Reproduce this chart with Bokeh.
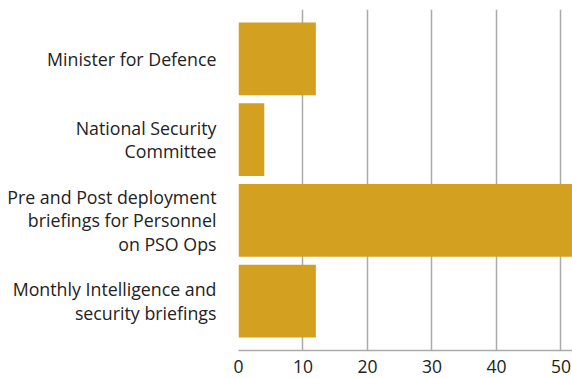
from bokeh.plotting import figure
from bokeh.models import Range1d, FixedTicker
from bokeh.embed import file_html
from bokeh.resources import INLINE

categories = [
    "Minister for Defence",
    "National Security\nCommittee",
    "Pre and Post deployment\nbriefings for Personnel\non PSO Ops",
    "Monthly Intelligence and\nsecurity briefings",
]
values = [12, 4, 52, 12]
positions = [4, 3, 2, 1]
x_ticks = [0, 10, 20, 30, 40, 50]

FONT = "Open Sans"
TEXT_COLOR = "#222222"
BAR_COLOR = "#D4A020"

p = figure(width=572, height=378, output_backend="svg", toolbar_location=None,
           x_range=Range1d(0, 51.8), y_range=Range1d(0.39, 4.61),
           min_border_left=238, min_border_right=0, min_border_top=9,
           min_border_bottom=28)
p.outline_line_color = None
p.background_fill_color = "white"

p.hbar(y=positions, right=values, left=0, height=0.9, color=BAR_COLOR, line_color=None)

p.xaxis.ticker = FixedTicker(ticks=x_ticks)
p.xaxis.axis_line_color = "#aaaaaa"
p.xaxis.axis_line_width = 1.5
p.xaxis.major_tick_line_color = None
p.xaxis.minor_tick_line_color = None
p.xaxis.major_label_text_font = FONT
p.xaxis.major_label_text_font_size = "17.5px"
p.xaxis.major_label_text_color = TEXT_COLOR
p.xaxis.major_label_standoff = 3

p.yaxis.ticker = FixedTicker(ticks=positions)
p.yaxis.major_label_overrides = {pos: lab for pos, lab in zip(positions, categories)}
p.yaxis.axis_line_color = None
p.yaxis.major_tick_line_color = None
p.yaxis.minor_tick_line_color = None
p.yaxis.major_label_text_font = FONT
p.yaxis.major_label_text_font_size = "17.8px"
p.yaxis.major_label_text_color = TEXT_COLOR
p.yaxis.major_label_standoff = 16
p.yaxis.major_label_text_line_height = 0.98

p.xgrid.grid_line_color = "#aaaaaa"
p.xgrid.grid_line_width = 1.5
p.ygrid.grid_line_color = None

open("out.html", "w").write(file_html(p, INLINE))
